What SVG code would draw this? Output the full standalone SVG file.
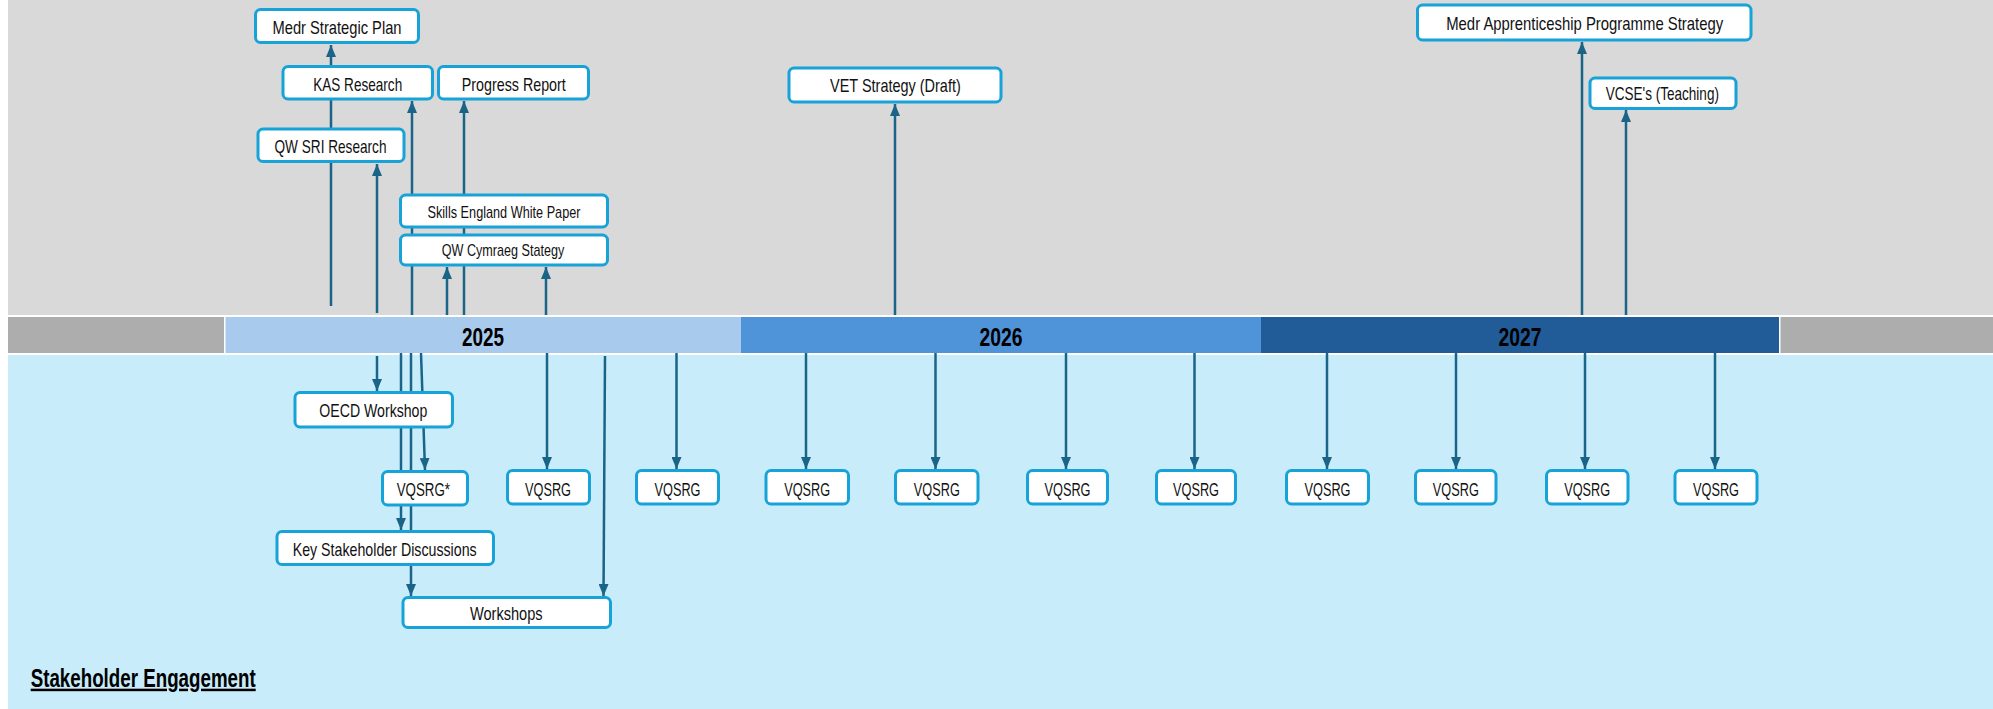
<svg xmlns="http://www.w3.org/2000/svg" width="1993" height="709" viewBox="0 0 1993 709">
<style>
.box{fill:#FFFFFF;stroke:#17A2D8;stroke-width:3}
.t{font-family:"Liberation Sans Narrow","Liberation Sans",Arial,sans-serif;font-size:19px;fill:#111;text-anchor:middle}
.ts{font-size:17px}
.yr{font-family:"Liberation Sans Narrow","Liberation Sans",Arial,sans-serif;font-size:25px;font-weight:bold;fill:#000;text-anchor:middle}
.c{stroke:#1A6488;stroke-width:2.5;fill:none;marker-end:url(#ah)}
.cn{stroke:#1A6488;stroke-width:2.5;fill:none}
</style>
<defs>
<marker id="ah" viewBox="0 0 12 10" refX="12" refY="5" markerWidth="12" markerHeight="10" markerUnits="userSpaceOnUse" orient="auto"><path d="M0,0 L12,5 L0,10 z" fill="#1A6488"/></marker>
</defs>
<rect x="0" y="0" width="1993" height="709" fill="#FFFFFF"/>
<g id="background">
<rect x="8" y="0" width="1985" height="315" fill="#D9D9D9"/>
<rect x="8" y="355" width="1985" height="354" fill="#C8ECFA"/>
</g>
<g id="timeline">
<rect x="8" y="317" width="216" height="36" fill="#ADADAD"/>
<rect x="225.5" y="317" width="515.5" height="36" fill="#A8CAEC"/>
<rect x="741" y="317" width="520" height="36" fill="#4F93D8"/>
<rect x="1261" y="317" width="518" height="36" fill="#215C99"/>
<rect x="1780.5" y="317" width="212.5" height="36" fill="#ADADAD"/>
<text class="yr" x="483" y="346" textLength="42" lengthAdjust="spacingAndGlyphs">2025</text>
<text class="yr" x="1001" y="346" textLength="43" lengthAdjust="spacingAndGlyphs">2026</text>
<text class="yr" x="1520" y="346" textLength="43" lengthAdjust="spacingAndGlyphs">2027</text>
</g>
<g id="connectors">
<line class="c" x1="331" y1="306" x2="331" y2="45"/>
<line class="c" x1="377" y1="313" x2="377" y2="164"/>
<line class="c" x1="412" y1="315" x2="412" y2="101"/>
<line class="c" x1="447" y1="315" x2="447" y2="267"/>
<line class="c" x1="464" y1="315" x2="464" y2="101"/>
<line class="c" x1="546" y1="315" x2="546" y2="267"/>
<line class="c" x1="895" y1="315" x2="895" y2="104"/>
<line class="c" x1="1582" y1="315" x2="1582" y2="42"/>
<line class="c" x1="1626" y1="315" x2="1626" y2="110"/>
<line class="c" x1="377" y1="356" x2="377" y2="391"/>
<line class="c" x1="401" y1="353" x2="401" y2="530"/>
<line class="c" x1="411" y1="353" x2="411" y2="596"/>
<line class="c" x1="421" y1="353" x2="425" y2="470"/>
<line class="c" x1="547" y1="353" x2="547" y2="469"/>
<line class="c" x1="605" y1="356" x2="603.5" y2="596"/>
<line class="c" x1="676.5" y1="353" x2="676.5" y2="469"/>
<line class="c" x1="806" y1="353" x2="806" y2="469"/>
<line class="c" x1="935.5" y1="353" x2="935.5" y2="469"/>
<line class="c" x1="1066" y1="353" x2="1066" y2="469"/>
<line class="c" x1="1194.5" y1="353" x2="1194.5" y2="469"/>
<line class="c" x1="1327" y1="353" x2="1327" y2="469"/>
<line class="c" x1="1456" y1="353" x2="1456" y2="469"/>
<line class="c" x1="1585" y1="353" x2="1585" y2="469"/>
<line class="c" x1="1715" y1="353" x2="1715" y2="469"/>
</g>
<g id="n-medr-strategic-plan"><rect class="box" x="255.5" y="9.5" width="163" height="33" rx="5"/><text class="t" x="337" y="34.3" textLength="129" lengthAdjust="spacingAndGlyphs">Medr Strategic Plan</text></g>
<g id="n-kas-research"><rect class="box" x="283" y="66.5" width="149.5" height="32.5" rx="5"/><text class="t" x="357.7" y="90.7" textLength="89" lengthAdjust="spacingAndGlyphs">KAS Research</text></g>
<g id="n-progress-report"><rect class="box" x="438.5" y="66.5" width="150" height="32.5" rx="5"/><text class="t" x="513.8" y="90.5" textLength="104" lengthAdjust="spacingAndGlyphs">Progress Report</text></g>
<g id="n-qw-sri-research"><rect class="box" x="258" y="129" width="146" height="32.5" rx="5"/><text class="t" x="330.5" y="152.7" textLength="112" lengthAdjust="spacingAndGlyphs">QW SRI Research</text></g>
<g id="n-skills-england"><rect class="box" x="400.5" y="195" width="207" height="32" rx="5"/><text class="t ts" x="504" y="218.3" textLength="153" lengthAdjust="spacingAndGlyphs">Skills England White Paper</text></g>
<g id="n-qw-cymraeg"><rect class="box" x="400.5" y="235" width="207" height="30" rx="5"/><text class="t ts" x="503" y="256" textLength="122.6" lengthAdjust="spacingAndGlyphs">QW Cymraeg Stategy</text></g>
<g id="n-vet-strategy"><rect class="box" x="789" y="68" width="212" height="34" rx="5"/><text class="t" x="895.4" y="92.3" textLength="130.7" lengthAdjust="spacingAndGlyphs">VET Strategy (Draft)</text></g>
<g id="n-medr-apprenticeship"><rect class="box" x="1417.5" y="5" width="333.5" height="35" rx="5"/><text class="t" x="1584.7" y="30" textLength="277" lengthAdjust="spacingAndGlyphs">Medr Apprenticeship  Programme Strategy</text></g>
<g id="n-vcse-teaching"><rect class="box" x="1590" y="78" width="146" height="30.5" rx="5"/><text class="t" x="1662.3" y="100" textLength="113.3" lengthAdjust="spacingAndGlyphs">VCSE's (Teaching)</text></g>
<g id="n-oecd-workshop"><rect class="box" x="295" y="392.5" width="157.5" height="34.5" rx="5"/><text class="t" x="373.3" y="417.3" textLength="108" lengthAdjust="spacingAndGlyphs">OECD Workshop</text></g>
<g id="n-vqsrg-star"><rect class="box" x="382.5" y="471.5" width="85" height="33.5" rx="5"/><text class="t" x="423.3" y="495.7" textLength="53.3" lengthAdjust="spacingAndGlyphs">VQSRG*</text></g>
<g id="n-vqsrg-1"><rect class="box" x="507.5" y="470.5" width="82" height="33.5" rx="5"/><text class="t" x="548" y="495.7" textLength="46" lengthAdjust="spacingAndGlyphs">VQSRG</text></g>
<g id="n-key-stakeholder"><rect class="box" x="277" y="531.5" width="216.5" height="33" rx="5"/><text class="t" x="384.7" y="556" textLength="184" lengthAdjust="spacingAndGlyphs">Key Stakeholder Discussions</text></g>
<g id="n-workshops"><rect class="box" x="403" y="597.5" width="207.5" height="30" rx="5"/><text class="t" x="506.3" y="620" textLength="72.7" lengthAdjust="spacingAndGlyphs">Workshops</text></g>
<g id="n-vqsrg-2"><rect class="box" x="636.5" y="470.5" width="82" height="33.5" rx="5"/><text class="t" x="677.5" y="495.7" textLength="46" lengthAdjust="spacingAndGlyphs">VQSRG</text></g>
<g id="n-vqsrg-3"><rect class="box" x="766" y="470.5" width="82.5" height="33.5" rx="5"/><text class="t" x="807.2" y="495.7" textLength="46" lengthAdjust="spacingAndGlyphs">VQSRG</text></g>
<g id="n-vqsrg-4"><rect class="box" x="895.5" y="470.5" width="82.5" height="33.5" rx="5"/><text class="t" x="936.8" y="495.7" textLength="46" lengthAdjust="spacingAndGlyphs">VQSRG</text></g>
<g id="n-vqsrg-5"><rect class="box" x="1027.5" y="470.5" width="80" height="33.5" rx="5"/><text class="t" x="1067.5" y="495.7" textLength="46" lengthAdjust="spacingAndGlyphs">VQSRG</text></g>
<g id="n-vqsrg-6"><rect class="box" x="1156.5" y="470.5" width="79" height="33.5" rx="5"/><text class="t" x="1196" y="495.7" textLength="46" lengthAdjust="spacingAndGlyphs">VQSRG</text></g>
<g id="n-vqsrg-7"><rect class="box" x="1286.5" y="470.5" width="82" height="33.5" rx="5"/><text class="t" x="1327.5" y="495.7" textLength="46" lengthAdjust="spacingAndGlyphs">VQSRG</text></g>
<g id="n-vqsrg-8"><rect class="box" x="1415.5" y="470.5" width="80.5" height="33.5" rx="5"/><text class="t" x="1455.8" y="495.7" textLength="46" lengthAdjust="spacingAndGlyphs">VQSRG</text></g>
<g id="n-vqsrg-9"><rect class="box" x="1546.5" y="470.5" width="81.5" height="33.5" rx="5"/><text class="t" x="1587.2" y="495.7" textLength="46" lengthAdjust="spacingAndGlyphs">VQSRG</text></g>
<g id="n-vqsrg-10"><rect class="box" x="1675" y="470.5" width="82" height="33.5" rx="5"/><text class="t" x="1716" y="495.7" textLength="46" lengthAdjust="spacingAndGlyphs">VQSRG</text></g>
<g id="section-label"><text x="30.7" y="686.7" font-family="'Liberation Sans Narrow','Liberation Sans',Arial,sans-serif" font-size="25" font-weight="bold" fill="#000" text-decoration="underline" textLength="225" lengthAdjust="spacingAndGlyphs">Stakeholder Engagement</text></g>
</svg>
